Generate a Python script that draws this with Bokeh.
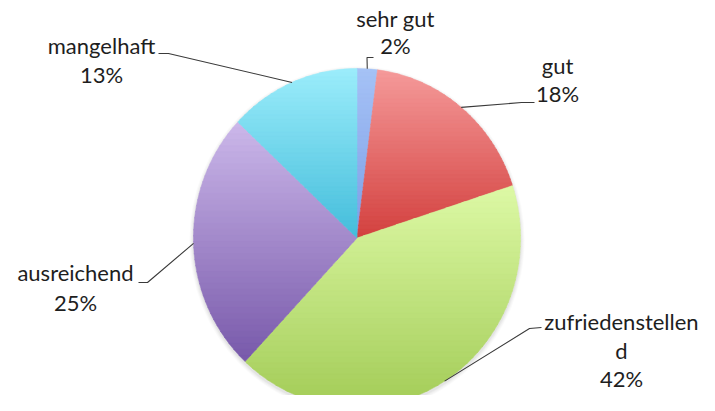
import numpy as np
from bokeh.plotting import figure
from bokeh.models import Range1d
from bokeh.embed import file_html
from bokeh.resources import INLINE
from bokeh.core.properties import value

# ---- data ----
categories = ["sehr gut", "gut", "zufriedenstellend", "ausreichend", "mangelhaft"]
display_labels = ["sehr gut", "gut", "zufriedenstellen\nd", "ausreichend", "mangelhaft"]
shares = [2, 18, 42, 25, 13]

# ---- styles ----
top_colors = ["#a6c2f6", "#f59a9a", "#ddf9a6", "#ccb8ea", "#9cedfb"]
bottom_colors = ["#7c9fe6", "#d3413f", "#a3cc57", "#7859aa", "#44bddb"]
text_color = "#1e1e1e"
leader_color = "#3a3a3a"

# ---- layout (picture pixel coordinates, origin top-left) ----
W, H = 699, 395
PAGE_H = 411
CX, CY = 356.5, 237.5
RX, RY = 163.5, 169.5
# label anchor: (center x, first line center y), line gap, leader elbow, leader end
label_pos = [(395, 18), (557, 65), (621, 321), (75, 272), (101, 45)]
line_gap = [27, 27.5, 28.5, 30, 29]
leader_elbow = [(366.5, 57), (521, 102), (529, 328), (147, 282), (168, 53)]
leader_end = [(373, 57), (534, 102), (541, 327), (138, 282), (158, 53)]


def Y(py):
    return PAGE_H - py


def lerp_color(c0, c1, t):
    a = [int(c0[i:i + 2], 16) for i in (1, 3, 5)]
    b = [int(c1[i:i + 2], 16) for i in (1, 3, 5)]
    c = [round(a[k] + (b[k] - a[k]) * t) for k in range(3)]
    return "#%02x%02x%02x" % tuple(c)


def clip(poly, y0, keep_above):
    out = []
    n = len(poly)
    for i in range(n):
        p = poly[i]
        q = poly[(i + 1) % n]
        pin = p[1] >= y0 if keep_above else p[1] <= y0
        qin = q[1] >= y0 if keep_above else q[1] <= y0
        if pin:
            out.append(p)
        if pin != qin:
            t = (y0 - p[1]) / (q[1] - p[1])
            out.append((p[0] + t * (q[0] - p[0]), y0))
    return out


p = figure(width=W, height=H, output_backend="svg", toolbar_location=None,
           x_range=Range1d(0, W), y_range=Range1d(PAGE_H - H, PAGE_H),
           min_border=0)
p.axis.visible = False
p.grid.visible = False
p.outline_line_color = None
p.background_fill_color = "white"
p.border_fill_color = "white"

cyd = Y(CY)

# soft shadow
for k, a in [(8, 0.04), (6, 0.05), (4, 0.06), (2, 0.08)]:
    p.ellipse(x=[CX], y=[cyd - 2], width=[2 * RX + k], height=[2 * RY + k],
              fill_color="#808080", fill_alpha=a, line_color=None)

total = float(sum(shares))
cum = np.concatenate([[0.0], np.cumsum(shares) / total])

xs_all, ys_all, cols = [], [], []
anchors = []
for i, s in enumerate(shares):
    a0, a1 = cum[i], cum[i + 1]
    n = max(4, int(200 * (a1 - a0)))
    t = np.linspace(a0, a1, n)
    th = np.pi / 2 - 2 * np.pi * t
    poly = [(CX, cyd)] + [(CX + RX * np.cos(v), cyd + RY * np.sin(v)) for v in th]
    ymin = min(q[1] for q in poly)
    ymax = max(q[1] for q in poly)
    nb = 40
    edges = np.linspace(ymax, ymin, nb + 1)
    for b in range(nb):
        yhi, ylo = edges[b] + 0.4, edges[b + 1] - 0.4
        band = clip(clip(poly, ylo, True), yhi, False)
        if len(band) < 3:
            continue
        xs_all.append([q[0] for q in band])
        ys_all.append([q[1] for q in band])
        cols.append(lerp_color(top_colors[i], bottom_colors[i], (b + 0.5) / nb))
    mid = np.pi / 2 - 2 * np.pi * (a0 + a1) / 2
    anchors.append((CX + RX * np.cos(mid), cyd + RY * np.sin(mid)))

p.patches(xs=xs_all, ys=ys_all, fill_color=cols, line_color=cols, line_width=0.5)

# leader lines
lx, ly = [], []
for i in range(len(shares)):
    ax, ay = anchors[i]
    ex, ey = leader_elbow[i]
    fx, fy = leader_end[i]
    lx.append([ax, ex, fx])
    ly.append([ay, Y(ey), Y(fy)])
p.multi_line(xs=lx, ys=ly, line_color=leader_color, line_width=1.1)

# labels
tx, ty, tt = [], [], []
for i, lab in enumerate(display_labels):
    lines = lab.split("\n") + ["%d%%" % shares[i]]
    x0, c0 = label_pos[i]
    for j, line in enumerate(lines):
        tx.append(x0)
        ty.append(Y(c0 + j * line_gap[i]))
        tt.append(line)
p.text(x=tx, y=ty, text=tt, text_font=value("Lato"), text_font_size="22px",
       text_align="center", text_baseline="middle", text_color=text_color)

open("out.html", "w").write(file_html(p, INLINE))
